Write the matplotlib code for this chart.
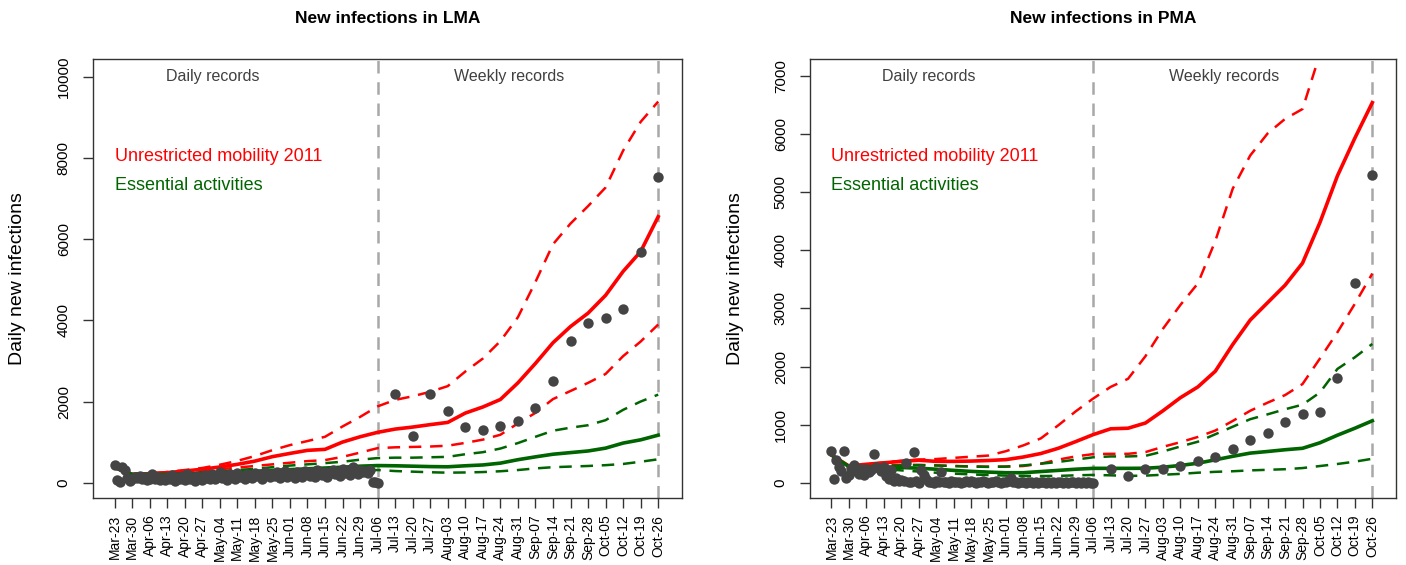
import matplotlib.pyplot as plt
import numpy as np
import pandas as pd

plt.rcParams['font.family'] = ['Liberation Sans', 'DejaVu Sans']

start = pd.Timestamp("2020-03-23")
weeks = pd.date_range("2020-03-23", "2020-10-26", freq="7D")
week_labels = [d.strftime("%b-%d") for d in weeks]
daily_dates = pd.date_range("2020-03-23", "2020-07-06")
weekly_dates = pd.date_range("2020-07-13", "2020-10-26", freq="7D")

# ---- LMA ----
lma_daily = [430, 60, 20, 390, 300, 120, 50, 90, 150,
             110, 170, 80, 130, 60, 100, 200, 90, 140, 70, 120, 60, 150, 90, 180,
             50, 130, 80, 160, 60, 210, 90, 140, 40, 170, 110, 60, 190, 120, 80,
             220, 90, 150, 270, 110, 180, 60, 200, 140, 90, 230, 130, 170, 80, 210,
             150, 120, 240, 160, 200, 100, 250, 180, 140, 220, 170, 260, 120, 200, 280, 150,
             230, 180, 120, 260, 200, 150, 290, 210, 170, 250, 130, 300, 220, 180, 270,
             140, 240, 310, 200, 260, 160, 330, 240, 280, 190, 380, 260, 220, 300, 250,
             280, 230, 310, 20, 10, 0]
lma_weekly = [2185, 1158, 2185, 1756, 1362, 1305, 1404, 1527, 1840, 2512,
              3497, 3933, 4071, 4278, 5682, 7544]
lma_mob = [370, 205, 220, 245, 285, 330, 385, 450, 530, 640, 720, 795, 820, 1000, 1130, 1240,
           1320, 1370, 1430, 1485, 1715, 1865, 2050, 2460, 2940, 3450, 3850, 4180, 4620, 5210, 5700, 6560]
lma_mob_hi = [370, 210, 230, 260, 310, 360, 440, 535, 655, 800, 925, 1025, 1130, 1385, 1620, 1880,
              2040, 2130, 2240, 2380, 2740, 3060, 3490, 4080, 4950, 5880, 6390, 6820, 7280, 8190, 8900, 9400]
lma_mob_lo = [370, 205, 215, 230, 255, 285, 330, 370, 410, 450, 490, 530, 555, 635, 740, 850,
              870, 880, 890, 910, 980, 1060, 1180, 1460, 1720, 2060, 2260, 2460, 2680, 3120, 3480, 3900]
lma_ess = [370, 205, 205, 205, 215, 225, 240, 255, 275, 300, 320, 340, 360, 380, 405, 420,
           415, 405, 395, 390, 415, 435, 480, 565, 635, 700, 740, 780, 850, 975, 1055, 1170]
lma_ess_hi = [370, 205, 210, 215, 230, 250, 275, 310, 340, 380, 420, 450, 480, 515, 565, 605,
              615, 615, 625, 635, 700, 750, 840, 975, 1130, 1280, 1355, 1415, 1540, 1795, 2000, 2170]
lma_ess_lo = [370, 205, 200, 195, 200, 205, 210, 220, 230, 240, 250, 260, 270, 280, 295, 310,
              285, 270, 255, 245, 250, 260, 280, 310, 350, 380, 395, 410, 430, 460, 515, 575]

# ---- PMA ----
pma_daily = [550, 70, 400, 280, 200, 550, 80, 130, 260,
             300, 210, 150, 240, 130, 240, 180, 230, 490, 270, 250, 200, 270, 120,
             60, 220, 40, 90, 30, 50, 30, 340, 20, 10, 530, 40, 0, 230, 140, 60,
             20, 10, 5, 40, 10, 190, 20, 10, 0, 30, 10, 20, 10, 0, 20,
             30, 10, 40, 10, 0, 20, 10, 30, 10, 0, 20, 10, 30, 10, 0, 20,
             10, 30, 80, 20, 10, 0, 20, 10, 0, 10, 20, 0, 10, 0, 10,
             20, 0, 10, 0, 10, 0, 20, 10, 0, 10, 0, 10, 20, 0, 10,
             0, 10, 0, 10, 0, 0]
pma_weekly = [235, 125, 235, 240, 297, 382, 441, 578, 737, 863,
              1051, 1178, 1223, 1812, 3430, 5300]
pma_mob = [480, 290, 320, 345, 370, 390, 370, 370, 375, 385, 400, 445, 505, 595, 710, 830,
           930, 940, 1030, 1240, 1465, 1650, 1920, 2380, 2800, 3100, 3400, 3780, 4480, 5280, 5930, 6540]
pma_mob_hi = [480, 290, 320, 350, 380, 400, 410, 430, 450, 470, 545, 645, 765, 990, 1230, 1450,
              1650, 1790, 2180, 2650, 3060, 3430, 4160, 5060, 5630, 6010, 6260, 6430, 7380, 8200, 9000, 9800]
pma_mob_lo = [480, 280, 290, 300, 310, 310, 300, 290, 285, 280, 280, 290, 330, 400, 455, 495,
              500, 500, 530, 620, 700, 790, 900, 1065, 1240, 1380, 1510, 1700, 2140, 2590, 3080, 3600]
pma_ess = [480, 280, 280, 275, 265, 252, 235, 215, 198, 185, 175, 175, 195, 215, 235, 250,
           250, 250, 252, 270, 300, 338, 397, 457, 512, 540, 570, 595, 690, 820, 940, 1068]
pma_ess_hi = [480, 280, 280, 290, 300, 305, 300, 290, 280, 275, 280, 300, 330, 360, 400, 440,
              455, 455, 465, 540, 626, 708, 836, 966, 1095, 1179, 1266, 1345, 1555, 1960, 2160, 2390]
pma_ess_lo = [480, 270, 260, 240, 215, 195, 175, 160, 145, 135, 125, 120, 118, 120, 130, 137,
              130, 120, 125, 140, 155, 175, 190, 200, 215, 225, 235, 255, 290, 325, 365, 415]

RED = '#FF0000'
GREEN = '#006400'
PTS = '#444444'


def day(dates):
    return np.array((dates - start).days, dtype=float)


def panel(ax, title, daily, weekly, mob, mob_lo, mob_hi, ess, ess_lo, ess_hi, ylim, yticks):
    xw = day(weeks)
    for d in ["2020-07-06", "2020-10-26"]:
        ax.axvline(day(pd.DatetimeIndex([d]))[0], color='#A8A8A8', lw=1.8,
                   dashes=(5, 3.5), zorder=1)

    ax.plot(xw, mob_hi, color=RED, lw=1.8, dashes=(5, 3.5), zorder=2)
    ax.plot(xw, mob_lo, color=RED, lw=1.8, dashes=(5, 3.5), zorder=2)
    ax.plot(xw, mob, color=RED, lw=2.6, zorder=3)
    ax.plot(xw, ess_hi, color=GREEN, lw=1.8, dashes=(5, 3.5), zorder=2)
    ax.plot(xw, ess_lo, color=GREEN, lw=1.8, dashes=(5, 3.5), zorder=2)
    ax.plot(xw, ess, color=GREEN, lw=2.6, zorder=3)

    ax.plot(day(daily_dates), daily, 'o', color=PTS, ms=7.5, mec='none', zorder=4)
    ax.plot(day(weekly_dates), weekly, 'o', color=PTS, ms=7.5, mec='none', zorder=4)

    ax.set_xlim(-8.6, 226.5)
    ax.set_ylim(*ylim)
    ax.set_xticks(xw)
    ax.set_xticklabels(week_labels, rotation=90, fontsize=10)
    ax.set_yticks(yticks)
    ax.set_yticklabels([str(v) for v in yticks], rotation=90, va='center', fontsize=11)
    ax.tick_params(axis='both', direction='out', length=7, width=1, color='#333333')
    ax.tick_params(axis='x', pad=5)
    ax.tick_params(axis='y', pad=9)
    for s in ax.spines.values():
        s.set_linewidth(1.0)
        s.set_color('#333333')

    ax.set_ylabel('Daily new infections', fontsize=14)
    ax.yaxis.set_label_coords(-0.113, 0.5)
    ax.set_title(title, fontsize=12.5, fontweight='bold', pad=26)

    tr = ax.get_xaxis_transform()
    ax.text(39, 0.961, 'Daily records', transform=tr, ha='center', va='center',
            fontsize=11.5, color='#404040')
    ax.text(157.6, 0.961, 'Weekly records', transform=tr, ha='center', va='center',
            fontsize=11.5, color='#404040')
    ax.text(0, 0.777, 'Unrestricted mobility 2011', transform=tr, ha='left', va='center',
            fontsize=13, color=RED)
    ax.text(0, 0.711, 'Essential activities', transform=tr, ha='left', va='center',
            fontsize=13, color=GREEN)


fig = plt.figure(figsize=(14.06, 5.65), dpi=100)
W, H = 1406.0, 565.0
ax1 = fig.add_axes([93 / W, 67 / H, 589 / W, 439 / H])
ax2 = fig.add_axes([810 / W, 67 / H, 586 / W, 439 / H])

panel(ax1, 'New infections in LMA', lma_daily, lma_weekly, lma_mob, lma_mob_lo, lma_mob_hi,
      lma_ess, lma_ess_lo, lma_ess_hi, (-380, 10450), [0, 2000, 4000, 6000, 8000, 10000])
panel(ax2, 'New infections in PMA', pma_daily, pma_weekly, pma_mob, pma_mob_lo, pma_mob_hi,
      pma_ess, pma_ess_lo, pma_ess_hi, (-260, 7290), [0, 1000, 2000, 3000, 4000, 5000, 6000, 7000])

fig.savefig('out.png', dpi=100)
